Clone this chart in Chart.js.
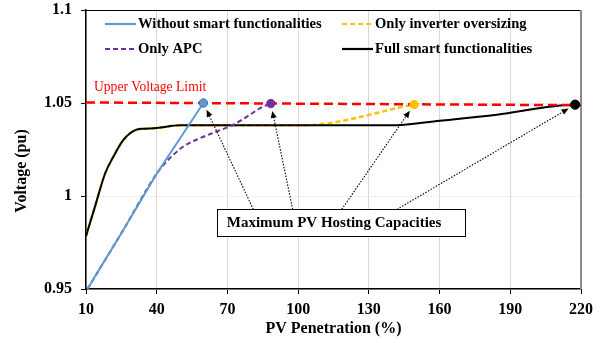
<!DOCTYPE html>
<html>
<head>
<meta charset="utf-8">
<title>PV hosting capacity</title>
<script src="https://cdn.jsdelivr.net/npm/chart.js@4.4.1/dist/chart.umd.min.js"></script>
<style>
  html, body { margin: 0; padding: 0; background: #fff; }
</style>
</head>
<body>
<canvas id="myChart" width="605" height="343"></canvas>
<script>
// PV penetration (%) against maximum feeder voltage (pu)
const penNoSmart = [10.6, 25, 40, 59.8];
const voltNoSmart = [0.95, 0.980, 1.012, 1.05];

const penApc = [10.6, 25, 40, 44.2, 51.3, 58.4, 65.5, 72.5, 79.6, 83.9, 88.4];
const voltApc = [0.95, 0.980, 1.012, 1.0185, 1.0266, 1.0311, 1.0347, 1.0383, 1.0437, 1.0473, 1.0497];

const penOversize = [10, 14, 18.1, 21.6, 25.8, 31.5, 35, 40, 49.9, 58.4, 101.5, 149.2];
const voltOversize = [0.9784, 0.9951, 1.0121, 1.0211, 1.0301, 1.0357, 1.0362, 1.0365, 1.038, 1.038, 1.038, 1.0492];

const penFull = [10, 14, 18.1, 21.6, 25.8, 31.5, 35, 40, 49.9, 58.4, 100, 139, 160.2, 184.3, 205.5, 212.4, 217.5];
const voltFull = [0.9784, 0.9951, 1.0121, 1.0211, 1.0301, 1.0357, 1.0362, 1.0365, 1.038, 1.038, 1.038, 1.038, 1.0405, 1.0437, 1.0478, 1.0488, 1.0491];

const penLimit = [10, 220];
const voltLimit = [1.0503, 1.0488];

const xTickValues = [10, 40, 70, 100, 130, 160, 190, 220];
const yTickValues = [0.95, 1, 1.05, 1.1];
const yTickLabels = ['0.95', '1', '1.05', '1.1'];

const FONT = '"Liberation Serif", "Times New Roman", serif';

function toPoints(xs, ys) {
    return xs.map((x, i) => ({ x: x, y: ys[i] }));
}
function last(arr) {
    return arr[arr.length - 1];
}

const blue = '#5B9BD5', purple = '#7030A0', yellow = '#FFC000', red = '#FF0000';

// end points of each curve = hosting capacity
const markerPoints = [
    { x: last(penNoSmart), y: last(voltNoSmart) },
    { x: last(penApc), y: last(voltApc) },
    { x: last(penOversize), y: last(voltOversize) },
    { x: last(penFull), y: last(voltFull) }
];

const datasets = [
    {
        label: 'Hosting capacity',
        data: markerPoints,
        showLine: false,
        pointRadius: [4.2, 4.2, 4.2, 4.6],
        pointBackgroundColor: [blue, purple, yellow, '#000'],
        pointBorderColor: ['#41719C', purple, yellow, '#000'],
        pointBorderWidth: 1,
        order: 0
    },
    {
        label: 'Upper Voltage Limit',
        data: toPoints(penLimit, voltLimit),
        borderColor: red,
        borderWidth: 2.5,
        borderDash: [9, 5],
        pointRadius: 0,
        order: 1
    },
    {
        label: 'Without smart functionalities',
        data: toPoints(penNoSmart, voltNoSmart),
        borderColor: blue,
        borderWidth: 2,
        pointRadius: 0,
        tension: 0,
        order: 2
    },
    {
        label: 'Only APC',
        data: toPoints(penApc, voltApc),
        borderColor: purple,
        borderWidth: 2,
        borderDash: [5, 3],
        pointRadius: 0,
        cubicInterpolationMode: 'monotone',
        order: 3
    },
    {
        label: 'Full smart functionalities',
        data: toPoints(penFull, voltFull),
        borderColor: '#000',
        borderWidth: 2,
        pointRadius: 0,
        cubicInterpolationMode: 'monotone',
        order: 4
    },
    {
        label: 'Only inverter oversizing',
        data: toPoints(penOversize, voltOversize),
        borderColor: yellow,
        borderWidth: 2.5,
        borderDash: [5, 3],
        pointRadius: 0,
        cubicInterpolationMode: 'monotone',
        order: 5
    }
];

// legend in two columns inside the plot
const legendItems = [
    { ds: 2, x: 105, y: 24 },
    { ds: 5, x: 342, y: 24 },
    { ds: 3, x: 105, y: 49 },
    { ds: 4, x: 342, y: 49 }
];

const decorPlugin = {
    id: 'decor',
    beforeDatasetsDraw(chart) {
        const { ctx, chartArea: a } = chart;
        ctx.save();
        // plot frame (top and right)
        ctx.strokeStyle = '#000';
        ctx.lineWidth = 1;
        ctx.beginPath();
        ctx.moveTo(a.left, a.top + 0.5);
        ctx.lineTo(a.right, a.top + 0.5);
        ctx.stroke();
        ctx.strokeStyle = '#8c8c8c';
        ctx.lineWidth = 2;
        ctx.beginPath();
        ctx.moveTo(a.right, a.top);
        ctx.lineTo(a.right, a.bottom);
        ctx.stroke();
        ctx.restore();
    },
    afterDatasetsDraw(chart) {
        const { ctx } = chart;
        const xs = chart.scales.x, ys = chart.scales.y;
        ctx.save();

        // y axis title
        ctx.fillStyle = '#000';
        ctx.font = 'bold 16px ' + FONT;
        ctx.textAlign = 'center';
        ctx.textBaseline = 'middle';
        ctx.translate(22, 171);
        ctx.rotate(-Math.PI / 2);
        ctx.fillText('Voltage (pu)', 0, 0);
        ctx.setTransform(1, 0, 0, 1, 0, 0);

        // limit label
        ctx.fillStyle = red;
        ctx.font = '13.6px ' + FONT;
        ctx.textAlign = 'left';
        ctx.textBaseline = 'alphabetic';
        ctx.fillText('Upper Voltage Limit', xs.getPixelForValue(penLimit[0]) + 8, ys.getPixelForValue(voltLimit[0]) - 11);

        // legend
        legendItems.forEach(item => {
            const ds = chart.data.datasets[item.ds];
            ctx.strokeStyle = ds.borderColor;
            ctx.lineWidth = 2.2;
            ctx.setLineDash(ds.borderDash || []);
            ctx.beginPath();
            ctx.moveTo(item.x, item.y);
            ctx.lineTo(item.x + 31, item.y);
            ctx.stroke();
            ctx.setLineDash([]);
            ctx.fillStyle = '#000';
            ctx.font = 'bold 14.6px ' + FONT;
            ctx.textBaseline = 'middle';
            ctx.fillText(ds.label, item.x + 33, item.y);
        });

        // callout box with arrows to the hosting capacities
        const box = { x1: 65.7, x2: 171.1, y1: 0.9928, y2: 0.9782 };
        const bx1 = xs.getPixelForValue(box.x1), bx2 = xs.getPixelForValue(box.x2);
        const by1 = ys.getPixelForValue(box.y1), by2 = ys.getPixelForValue(box.y2);
        const starts = [81.0, 97.7, 118.5, 141.9];
        markerPoints.forEach((p, i) => {
            const sx = xs.getPixelForValue(starts[i]), sy = by1;
            const mx = xs.getPixelForValue(p.x), my = ys.getPixelForValue(p.y);
            const dx = sx - mx, dy = sy - my;
            const len = Math.hypot(dx, dy);
            const ux = dx / len, uy = dy / len;
            const tx = mx + ux * 7.5, ty = my + uy * 7.5;
            ctx.strokeStyle = '#000';
            ctx.lineWidth = 1.1;
            ctx.setLineDash([1.5, 1.5]);
            ctx.beginPath();
            ctx.moveTo(sx, sy);
            ctx.lineTo(tx + ux * 5, ty + uy * 5);
            ctx.stroke();
            ctx.setLineDash([]);
            // arrow head
            const hx = tx + ux * 7, hy = ty + uy * 7;
            ctx.fillStyle = '#000';
            ctx.beginPath();
            ctx.moveTo(tx, ty);
            ctx.lineTo(hx - uy * 3, hy + ux * 3);
            ctx.lineTo(hx + uy * 3, hy - ux * 3);
            ctx.closePath();
            ctx.fill();
        });
        ctx.fillStyle = '#fff';
        ctx.fillRect(bx1, by1, bx2 - bx1, by2 - by1);
        ctx.strokeStyle = '#000';
        ctx.lineWidth = 1;
        ctx.strokeRect(Math.round(bx1) + 0.5, Math.round(by1) + 0.5, Math.round(bx2 - bx1), Math.round(by2 - by1));
        ctx.fillStyle = '#000';
        ctx.font = 'bold 15px ' + FONT;
        ctx.textAlign = 'left';
        ctx.textBaseline = 'middle';
        ctx.fillText('Maximum PV Hosting Capacities', bx1 + 9.5, (by1 + by2) / 2 + 0.5);

        ctx.restore();
    }
};

const ctx = document.getElementById('myChart').getContext('2d');
const myChart = new Chart(ctx, {
    type: 'line',
    data: { datasets: datasets },
    options: {
        responsive: false,
        animation: false,
        devicePixelRatio: 1,
        layout: { padding: { top: 10, right: 24, bottom: 0, left: 0 } },
        plugins: {
            legend: { display: false },
            tooltip: { enabled: false }
        },
        scales: {
            x: {
                type: 'linear',
                min: 10,
                max: 220,
                afterBuildTicks: scale => { scale.ticks = xTickValues.map(v => ({ value: v })); },
                afterFit: scale => {
                    scale.height = 54;
                    scale.paddingLeft = 0;
                    scale.paddingRight = 0;
                },
                ticks: {
                    autoSkip: false,
                    maxRotation: 0,
                    padding: 6,
                    color: '#000',
                    font: { family: FONT, size: 16, weight: 'bold' }
                },
                grid: { color: '#d9d9d9', lineWidth: 1, tickColor: '#000', tickLength: 5 },
                border: { color: '#000', width: 1.5 },
                title: {
                    display: true,
                    text: 'PV Penetration (%)',
                    color: '#000',
                    font: { family: FONT, size: 16, weight: 'bold' },
                    padding: { top: 0, bottom: 5 }
                }
            },
            y: {
                type: 'linear',
                min: 0.95,
                max: 1.1,
                afterBuildTicks: scale => { scale.ticks = yTickValues.map(v => ({ value: v })); },
                afterFit: scale => {
                    scale.width = 86;
                    scale.paddingTop = 0;
                    scale.paddingBottom = 0;
                },
                ticks: {
                    padding: 9,
                    color: '#000',
                    font: { family: FONT, size: 16, weight: 'bold' },
                    callback: (value) => {
                        const i = yTickValues.findIndex(v => Math.abs(v - value) < 1e-6);
                        return i >= 0 ? yTickLabels[i] : '';
                    }
                },
                grid: { color: '#e3e3e3', lineWidth: 1, tickColor: '#000', tickLength: 5 },
                border: { color: '#000', width: 1.5, dash: [2, 2] }
            }
        }
    },
    plugins: [decorPlugin]
});
</script>
</body>
</html>
